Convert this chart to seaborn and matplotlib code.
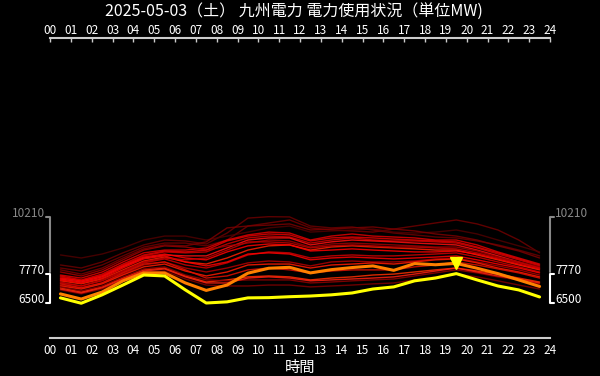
import numpy as np
import pandas as pd
import matplotlib
matplotlib.use('Agg')
import matplotlib.pyplot as plt
import seaborn as sns

# half-hour points (hh:30) of each day
hours = [0.5, 1.5, 2.5, 3.5, 4.5, 5.5, 6.5, 7.5, 8.5, 9.5, 10.5, 11.5,
         12.5, 13.5, 14.5, 15.5, 16.5, 17.5, 18.5, 19.5, 20.5, 21.5, 22.5, 23.5]
hour_labels = [f"{h:02d}" for h in range(25)]

# today (yellow)
today = [6730, 6500, 6860, 7280, 7710, 7670, 7070, 6510, 6560, 6730, 6740, 6780,
         6810, 6860, 6940, 7110, 7200, 7460, 7580, 7770, 7500, 7240, 7070, 6770]

# orange series
orange = [6900, 6680, 6980, 7460, 7800, 7800, 7370, 7050, 7280, 7790, 8000, 8040,
          7800, 7940, 8030, 8100, 7910, 8200, 8150, 8210, 8000, 7770, 7500, 7220]

# past days (red shades)
past_days = [
    [8140, 8010, 8270, 8660, 9000, 9210, 9170, 9040, 9510, 10150, 10210, 10200,
     9810, 9730, 9770, 9640, 9510, 9430, 9340, 9300, 9170, 9000, 8780, 8530],
    [8010, 7880, 8140, 8530, 8910, 9080, 9080, 8960, 9210, 9810, 9940, 10070,
     9730, 9640, 9600, 9550, 9680, 9810, 9940, 10070, 9900, 9640, 9210, 8660],
    [7710, 7580, 7840, 8270, 8660, 8780, 8780, 8870, 9210, 9430, 9550, 9510,
     9210, 9380, 9470, 9380, 9340, 9300, 9210, 9210, 9000, 8700, 8440, 8180],
    [7630, 7460, 7710, 8140, 8530, 8700, 8660, 8700, 9040, 9300, 9380, 9340,
     9080, 9210, 9300, 9210, 9170, 9170, 9130, 9080, 8870, 8610, 8360, 8100],
    [7540, 7410, 7630, 8060, 8440, 8570, 8530, 8530, 8870, 9210, 9300, 9300,
     9000, 9130, 9210, 9170, 9130, 9080, 9040, 9000, 8780, 8530, 8270, 8010],
    [7840, 7670, 7930, 8360, 8780, 8960, 8910, 8780, 8960, 9080, 9210, 9170,
     8910, 9040, 9080, 9040, 9000, 8960, 8910, 8910, 8740, 8480, 8270, 8060],
    [7460, 7330, 7540, 7930, 8310, 8480, 8270, 8180, 8440, 8780, 8960, 9000,
     8780, 8910, 8960, 8910, 8870, 8830, 8780, 8780, 8570, 8360, 8140, 7930],
    [7370, 7240, 7460, 7840, 8230, 8400, 8140, 8010, 8230, 8570, 8700, 8660,
     8440, 8530, 8570, 8530, 8530, 8570, 8610, 8660, 8480, 8270, 8060, 7840],
    [7500, 7370, 7580, 8010, 8400, 8530, 8270, 8100, 8270, 8610, 8660, 8610,
     8360, 8440, 8480, 8440, 8400, 8440, 8480, 8530, 8360, 8180, 8010, 7800],
    [7280, 7160, 7370, 7750, 8140, 8270, 8010, 7840, 8010, 8230, 8310, 8270,
     8100, 8270, 8310, 8270, 8270, 8310, 8400, 8440, 8270, 8100, 7930, 7710],
    [7240, 7110, 7330, 7710, 8060, 8180, 7880, 7670, 7840, 8140, 8180, 8180,
     8010, 8140, 8180, 8230, 8180, 8270, 8360, 8400, 8230, 8010, 7840, 7630],
    [7330, 7160, 7370, 7800, 8180, 8270, 7930, 7580, 7670, 7930, 8010, 7930,
     7800, 7880, 7930, 7930, 7930, 8060, 8140, 8270, 8140, 7970, 7800, 7580],
    [7160, 6980, 7200, 7580, 7930, 8010, 7670, 7410, 7500, 7630, 7670, 7630,
     7500, 7580, 7630, 7710, 7750, 7840, 7930, 8010, 7880, 7750, 7580, 7410],
    [7200, 7030, 7240, 7630, 7970, 8060, 7710, 7500, 7460, 7500, 7500, 7500,
     7370, 7410, 7460, 7500, 7540, 7670, 7800, 7930, 7800, 7630, 7500, 7330],
    [7580, 7460, 7670, 8100, 8480, 8610, 8440, 8360, 8700, 8960, 9040, 9000,
     8740, 8780, 8830, 8780, 8740, 8700, 8700, 8740, 8610, 8400, 8180, 7970],
    [8570, 8440, 8610, 8870, 9210, 9380, 9380, 9210, 9380, 9550, 9730, 9810,
     9550, 9600, 9640, 9680, 9550, 9510, 9550, 9640, 9470, 9210, 8960, 8700],
    [7410, 7240, 7500, 7880, 8270, 8440, 8360, 8440, 8780, 9130, 9130, 9080,
     8870, 8960, 9000, 8960, 8910, 8910, 8870, 8830, 8660, 8440, 8230, 8010],
    [7070, 6900, 7110, 7500, 7840, 7880, 7540, 7280, 7240, 7240, 7280, 7280,
     7200, 7240, 7280, 7330, 7370, 7500, 7630, 7750, 7630, 7460, 7280, 7110],
    [7110, 6940, 7160, 7540, 7880, 7970, 7630, 7370, 7370, 7580, 7630, 7580,
     7460, 7500, 7540, 7580, 7630, 7750, 7880, 8010, 7840, 7670, 7540, 7370],
    [7670, 7500, 7750, 8180, 8570, 8740, 8700, 8780, 9170, 9380, 9470, 9430,
     9170, 9300, 9340, 9300, 9250, 9210, 9170, 9130, 8910, 8660, 8400, 8140],
    [7930, 7750, 8010, 8440, 8830, 9000, 8960, 9130, 9730, 9810, 9850, 9900,
     9640, 9680, 9730, 9770, 9680, 9600, 9470, 9380, 9210, 8960, 8740, 8440],
]
past_colors = ['#6b0000', '#700000', '#e00000', '#cc0000', '#ff1010', '#a00000', '#ff2000',
               '#d00000', '#ff0000', '#b00000', '#ff1a00', '#e01000', '#ff3000', '#900000',
               '#ff0000', '#500000', '#c00000', '#800000', '#ff2010', '#e00000', '#7a0000']

title = '2025-05-03（土） 九州電力 電力使用状況（単位MW)'
x_title = '時間'

# long table for seaborn
rows = []
for i, vals in enumerate(past_days):
    for h, v in zip(hours, vals):
        rows.append({'day': f'd{i}', 'hour': h, 'mw': v})
df_past = pd.DataFrame(rows)
df_today = pd.DataFrame({'hour': hours, 'mw': today})
df_orange = pd.DataFrame({'hour': hours, 'mw': orange})

sns.set_style('dark')
plt.rcParams['font.family'] = ['Noto Sans CJK JP', 'DejaVu Sans']

fig = plt.figure(figsize=(6, 3.76), dpi=100, facecolor='black')
ax = fig.add_axes([50 / 600, 38 / 376, 500 / 600, 300 / 376])
ax.set_facecolor('black')

sns.lineplot(data=df_past, x='hour', y='mw', hue='day',
             palette=dict(zip([f'd{i}' for i in range(len(past_days))], past_colors)),
             estimator=None, legend=False, linewidth=1.0, alpha=0.85, ax=ax)
sns.lineplot(data=df_orange, x='hour', y='mw', color='#ff8000', linewidth=2.2, ax=ax)
sns.lineplot(data=df_today, x='hour', y='mw', color='#ffff00', linewidth=2.2, ax=ax)

# marker at the orange series peak
pk = int(np.argmax(orange))
ax.plot(hours[pk], orange[pk], marker='v', color='#ffff00', markersize=8, zorder=5)

ax.set_xlim(0, 24)
ax.set_ylim(5010, 17870)
ax.set_xlabel('')
ax.set_ylabel('')
ax.grid(False)
ax.set_yticks([])
for s in ['left', 'right', 'top']:
    ax.spines[s].set_visible(False)
ax.spines['bottom'].set_color('#cccccc')
ax.spines['bottom'].set_linewidth(1.5)
ax.set_xticks(range(25))
ax.set_xticklabels(hour_labels)
ax.tick_params(axis='x', direction='in', length=3, width=1, color='#cccccc',
               labelcolor='white', labelsize=8.5, pad=4)

top = ax.secondary_xaxis('top')
top.set_xticks(range(25))
top.set_xticklabels(hour_labels)
top.spines['top'].set_color('#cccccc')
top.spines['top'].set_linewidth(1.5)
top.tick_params(axis='x', direction='in', length=3, width=1, color='#cccccc',
                labelcolor='white', labelsize=8.5, pad=1)

# value brackets on both sides
all_max = max(max(d) for d in past_days + [today, orange])
t_min, t_max = min(today), max(today)
yt = ax.get_yaxis_transform()
for x0, dx, ha in [(0, -0.008, 'right'), (1, 0.008, 'left')]:
    ax.plot([x0 + dx, x0, x0], [all_max, all_max, t_max + 80], color='#888888',
            lw=1.5, transform=yt, clip_on=False)
    ax.plot([x0 + dx, x0, x0, x0 + dx], [t_max, t_max, t_min, t_min], color='white',
            lw=1.5, transform=yt, clip_on=False)
    xt = x0 + dx * 1.3
    ax.text(xt, all_max, f'{all_max}', color='#888888', ha=ha, va='baseline',
            fontsize=8.5, transform=yt)
    ax.text(xt, t_max, f'{t_max}', color='white', ha=ha, va='baseline',
            fontsize=8.5, transform=yt)
    ax.text(xt, t_min, f'{t_min}', color='white', ha=ha, va='baseline',
            fontsize=8.5, transform=yt)

fig.text(0.49, 1 - 12.5 / 376, title, color='white', fontsize=11.5, ha='center', va='center')
fig.text(0.5, 1 - 367 / 376, x_title, color='white', fontsize=11, ha='center', va='center')

fig.savefig('out.png', dpi=100, facecolor='black')
